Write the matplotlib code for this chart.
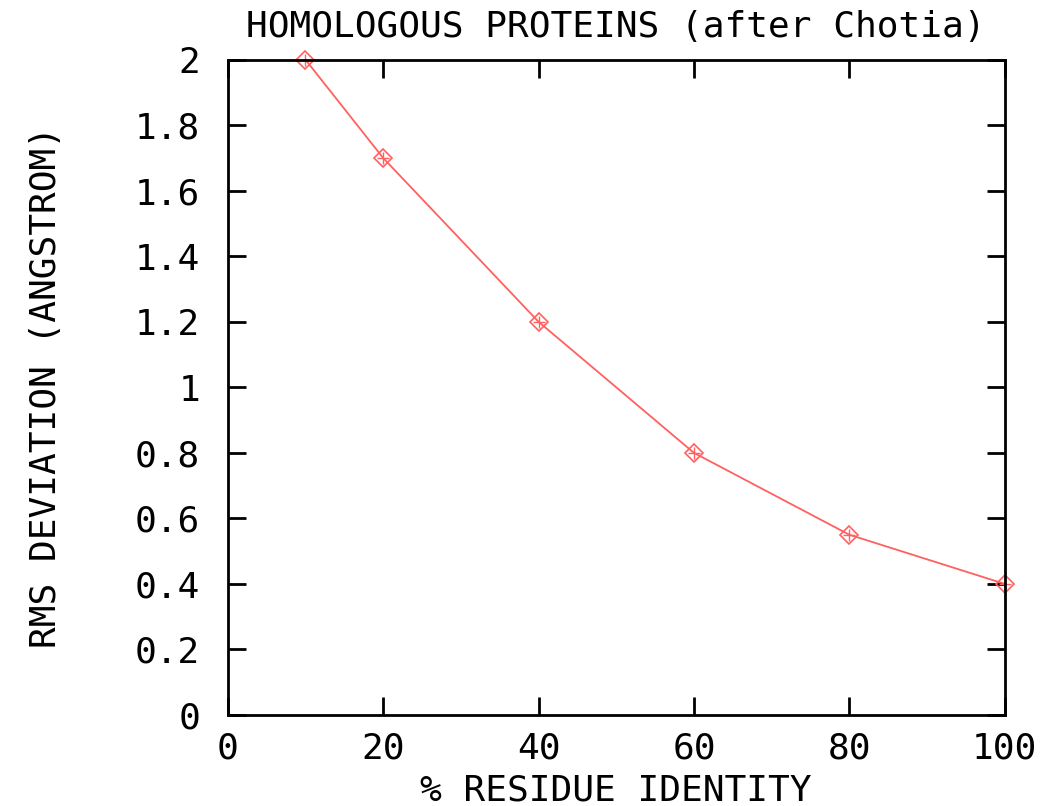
import matplotlib
matplotlib.use("Agg")
import matplotlib.pyplot as plt

# data
identity = [10, 20, 40, 60, 80, 100]
rms_dev = [2.0, 1.7, 1.2, 0.8, 0.55, 0.4]

x_ticks = [0, 20, 40, 60, 80, 100]
y_ticks = [0, 0.2, 0.4, 0.6, 0.8, 1.0, 1.2, 1.4, 1.6, 1.8, 2.0]
y_labels = ['0', '0.2', '0.4', '0.6', '0.8', '1', '1.2', '1.4', '1.6', '1.8', '2']

FONT = 'DejaVu Sans Mono'
FS = 26
RED = '#ff6060'

fig = plt.figure(figsize=(10.4, 8.06), dpi=100)
ax = fig.add_axes([0.219, 0.113, 0.747, 0.813])

ax.plot(identity, rms_dev, color=RED, linewidth=1.3,
        marker='D', markersize=9, markerfacecolor='none',
        markeredgecolor=RED, markeredgewidth=1.2, clip_on=False)
ax.plot(identity, rms_dev, linestyle='none', marker='+', markersize=8,
        markeredgecolor=RED, markeredgewidth=1.0, clip_on=False)

ax.set_xlim(0, 100)
ax.set_ylim(0, 2)
ax.set_xticks(x_ticks)
ax.set_xticklabels([str(t) for t in x_ticks], family=FONT, fontsize=FS)
ax.set_yticks(y_ticks)
ax.set_yticklabels(y_labels, family=FONT, fontsize=FS)
ax.tick_params(direction='in', length=13, width=2, top=True, right=True)
ax.tick_params(axis='y', pad=20)
ax.tick_params(axis='x', pad=12)
for s in ax.spines.values():
    s.set_linewidth(2)

ax.set_xlabel('% RESIDUE IDENTITY', family=FONT, fontsize=FS, labelpad=6)
ax.set_ylabel('RMS DEVIATION (ANGSTROM)', family=FONT, fontsize=FS, labelpad=52)
ax.set_title('HOMOLOGOUS PROTEINS (after Chotia)', family=FONT, fontsize=FS, pad=16)

fig.savefig('out.png', dpi=100)
